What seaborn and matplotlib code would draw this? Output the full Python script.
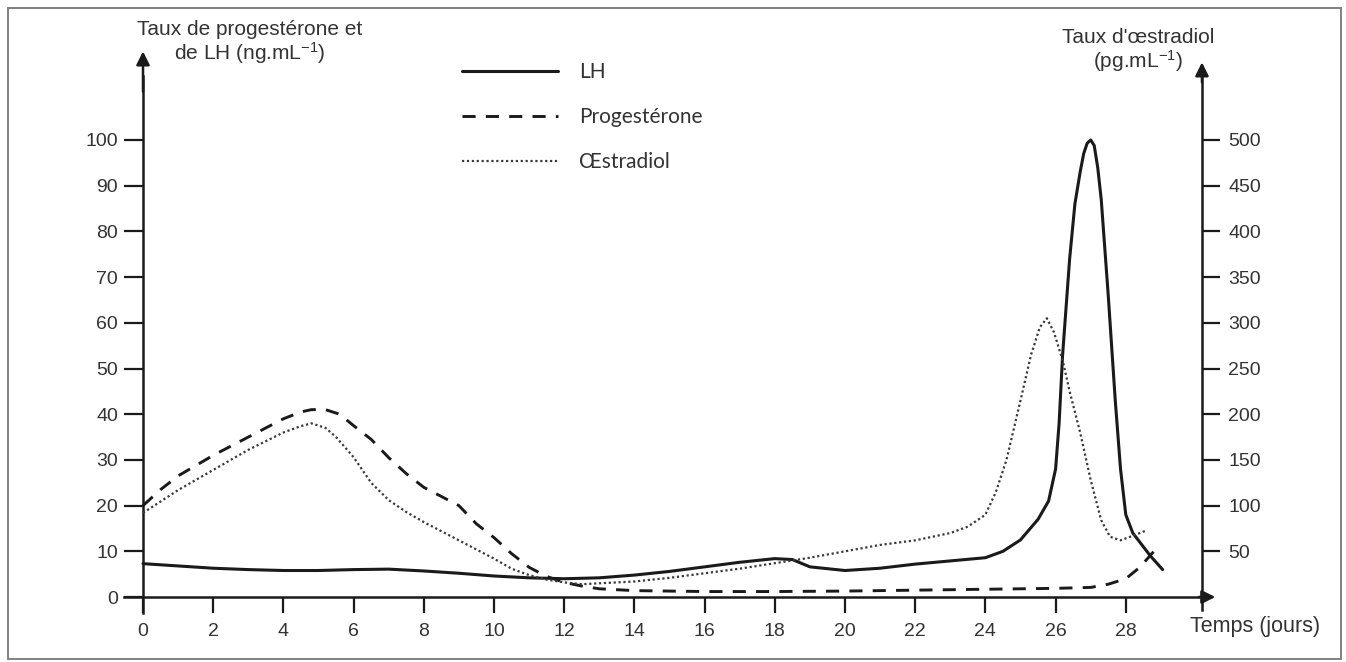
import numpy as np
import pandas as pd
import matplotlib.pyplot as plt
import matplotlib.patches as mpatches
from matplotlib.lines import Line2D
import seaborn as sns

#%%
# values
# LH and progesterone in ng/mL (left axis), oestradiol in pg/mL (right axis)
days_lh = [0, 1, 2, 3, 4, 5, 6, 7, 8, 9, 10, 11, 12, 13, 14, 15, 16, 17,
           18, 18.5, 19, 20, 21, 22, 23, 24, 24.5, 25, 25.5, 25.8, 26,
           26.1, 26.2, 26.4, 26.55, 26.7, 26.8, 26.9, 27, 27.1, 27.2, 27.3,
           27.5, 27.7, 27.85, 28, 28.2, 28.4, 28.7, 29.05]
lh = [7.3, 6.8, 6.3, 6.0, 5.8, 5.8, 6.0, 6.1, 5.7, 5.2, 4.6, 4.2, 4.0, 4.2,
      4.8, 5.6, 6.6, 7.6, 8.4, 8.2, 6.6, 5.8, 6.3, 7.2, 7.9, 8.6, 10, 12.5,
      17, 21, 28, 38, 53, 74, 86, 93, 97, 99.3, 100, 98.8, 94, 87, 66, 43,
      28, 18, 14, 12, 9, 6]

days_prog = [0, 0.5, 1, 2, 3, 4, 4.5, 4.8, 5.2, 5.6, 6, 6.5, 7, 7.5, 8, 8.5,
             9, 9.5, 10, 10.5, 11, 11.5, 12, 12.5, 13, 14, 16, 18, 20, 22,
             24, 26, 27, 27.5, 28, 28.4, 28.8]
progesterone = [20, 23.5, 26.5, 31, 35, 39, 40.5, 41, 41, 40, 37.5, 34.5,
                30.5, 27, 24, 22, 20, 16, 13, 9.5, 6.5, 4.5, 3.2, 2.4, 1.8,
                1.4, 1.2, 1.2, 1.3, 1.5, 1.7, 1.9, 2.1, 2.8, 4, 6.5, 10]

days_oes = [0, 1, 2, 3, 4, 4.5, 4.8, 5.2, 5.5, 6, 6.5, 7, 7.5, 8, 8.5, 9,
            9.5, 10, 10.5, 11, 11.5, 12, 12.5, 13, 14, 15, 16, 17, 18, 19,
            20, 21, 22, 23, 23.5, 24, 24.3, 24.6, 25, 25.3, 25.55, 25.75,
            25.95, 26.2, 26.4, 26.7, 27, 27.3, 27.55, 27.85, 28.2, 28.6]
oestradiol = [92, 117, 139, 161, 180, 187, 190, 185, 175, 153, 125, 106, 93,
              82, 72, 62, 52, 42, 31, 24, 19, 16, 14, 15, 17, 21, 26, 31, 37,
              43, 50, 57, 62, 70, 77, 90, 115, 150, 215, 265, 295, 305, 290,
              259, 225, 180, 128, 84, 66, 62, 67, 73]

x_ticks = list(range(0, 29, 2))
left_ticks = list(range(0, 101, 10))
right_ticks = list(range(50, 501, 50))

labels = ["LH", "Progestérone", "Œstradiol"]

#%%
sns.set_theme(style="white")
plt.rcParams["font.family"] = ["Liberation Sans", "DejaVu Sans"]
plt.rcParams["mathtext.default"] = "regular"

INK = "#1a1a1a"
TXT = "#333333"

lh_df = pd.DataFrame({"jour": days_lh, "taux": lh})
prog_df = pd.DataFrame({"jour": days_prog, "taux": progesterone})
oes_df = pd.DataFrame({"jour": days_oes, "taux": oestradiol})

fig = plt.figure(figsize=(13.46, 6.62), dpi=100)
ax = fig.add_axes([0.0919, 0.074, 0.8123, 0.8595])
ax2 = ax.twinx()

sns.lineplot(data=lh_df, x="jour", y="taux", ax=ax, color=INK,
             linewidth=2.2, estimator=None, sort=False)
sns.lineplot(data=prog_df, x="jour", y="taux", ax=ax, color=INK,
             linewidth=2.1, linestyle=(0, (4.5, 3.5)), estimator=None,
             sort=False)
sns.lineplot(data=oes_df, x="jour", y="taux", ax=ax2, color="#3a3a3a",
             linewidth=1.6, linestyle=(0, (1, 1.2)), estimator=None,
             sort=False)

ax.set_xlim(-0.55, 30.6)
ax.set_ylim(-3.5, 121)
ax2.set_ylim(-17.5, 605)
ax.set_xlabel("")
ax.set_ylabel("")
ax2.set_ylabel("")
ax.grid(False)
ax2.grid(False)

# axes drawn as arrows through the origin, like the textbook figure
for s in ["top", "right"]:
    ax.spines[s].set_visible(False)
for s in ["top", "left", "bottom"]:
    ax2.spines[s].set_visible(False)
ax.spines["left"].set_position(("data", 0))
ax.spines["left"].set_bounds(-3.5, 114)
ax.spines["bottom"].set_position(("data", 0))
ax.spines["bottom"].set_bounds(-0.55, 30.3)
ax2.spines["right"].set_position(("data", 30.17))
ax2.spines["right"].set_bounds(-14, 570)
for sp in [ax.spines["left"], ax.spines["bottom"], ax2.spines["right"]]:
    sp.set_color(INK)
    sp.set_linewidth(1.8)

arrow = dict(arrowstyle="-|>", color=INK, lw=1.8, mutation_scale=20)
ax.annotate("", xy=(0, 120), xytext=(0, 110), arrowprops=arrow,
            annotation_clip=False)
ax.annotate("", xy=(30.63, 0), xytext=(30.0, 0), arrowprops=arrow,
            annotation_clip=False)
ax2.annotate("", xy=(30.17, 588), xytext=(30.17, 560), arrowprops=arrow,
             annotation_clip=False)

ax.set_xticks(x_ticks)
ax.set_yticks(left_ticks)
ax2.set_yticks(right_ticks)
ax.tick_params(axis="x", direction="out", length=11.5, width=1.6,
               color=INK, pad=7, labelsize=14, labelcolor=TXT, bottom=True)
ax.tick_params(axis="y", direction="out", length=14, width=1.6,
               color=INK, pad=4, labelsize=14, labelcolor=TXT, left=True)
ax2.tick_params(axis="y", direction="out", length=13, width=1.6,
                color=INK, pad=6, labelsize=14, labelcolor=TXT, right=True)

# axis titles
fig.text(250 / 1346, 1 - 20 / 662,
         "Taux de progestérone et\nde LH (ng.mL$^{-1}$)",
         ha="center", va="top", fontsize=15, color=TXT,
         linespacing=1.05)
fig.text(1138 / 1346, 1 - 28 / 662,
         "Taux d'œstradiol\n(pg.mL$^{-1}$)",
         ha="center", va="top", fontsize=15, color=TXT,
         linespacing=1.05)
fig.text(1190 / 1346, 1 - 616 / 662, "Temps (jours)",
         ha="left", va="top", fontsize=15.5, color=TXT)

# legend
handles = [
    Line2D([], [], color=INK, lw=2.2),
    Line2D([], [], color=INK, lw=2.1, ls=(0, (4.5, 3.5))),
    Line2D([], [], color="#3a3a3a", lw=1.6, ls=(0, (1, 1.2))),
]
ax.legend(handles, labels, loc="upper left",
          bbox_to_anchor=(462 / 1346, 1 - 62 / 662),
          bbox_transform=fig.transFigure, frameon=False,
          handlelength=4.6, handletextpad=1.0, labelspacing=1.2,
          borderpad=0, borderaxespad=0,
          prop={"family": ["Lato", "DejaVu Sans"], "size": 15},
          labelcolor=TXT)

# scanned page frame
fig.add_artist(mpatches.Rectangle(
    (8 / 1346, 3 / 662), 1333 / 1346, 651 / 662,
    transform=fig.transFigure, fill=False, edgecolor="#777777",
    linewidth=1.3))

fig.savefig("out.png", dpi=100)
plt.close()
